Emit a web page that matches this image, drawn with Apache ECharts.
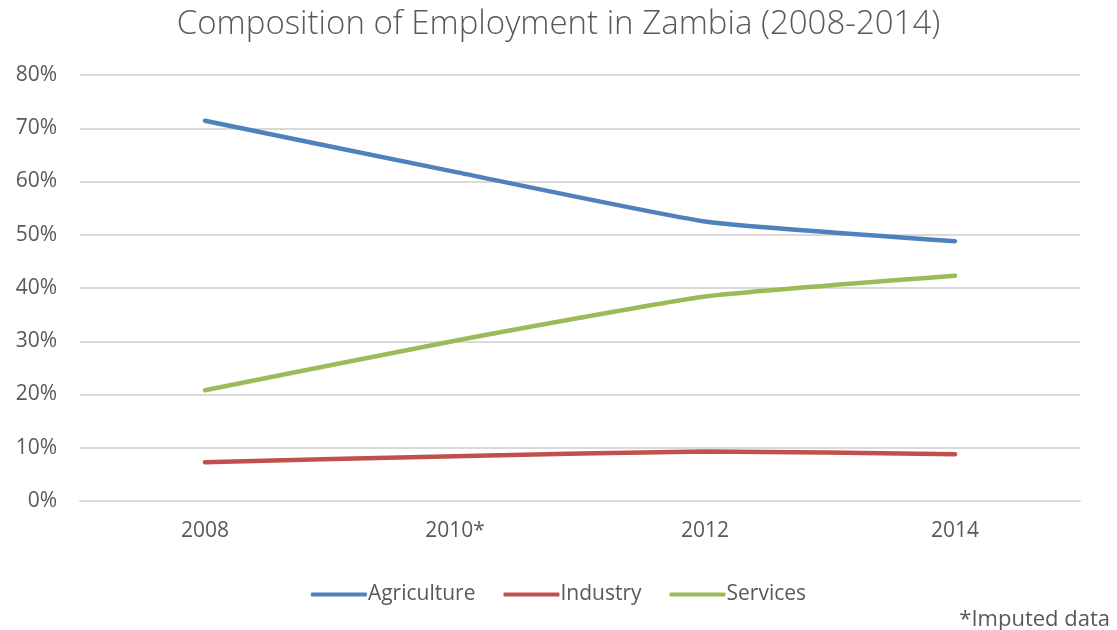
<!DOCTYPE html>
<html><head><meta charset="utf-8">
<script src="https://cdn.jsdelivr.net/npm/echarts@6/dist/echarts.min.js"></script>
<style>html,body{margin:0;padding:0;background:#fff}#c{width:1117px;height:630px}</style>
</head><body><div id="c"></div>
<script>
const categories = ['2008', '2010*', '2012', '2014'];
const agriculture = [71.4, 61.8, 52.5, 48.8];
const industry = [7.3, 8.4, 9.3, 8.8];
const services = [20.8, 30.1, 38.4, 42.3];
const yTicks = [0, 10, 20, 30, 40, 50, 60, 70, 80];

const chart = echarts.init(document.getElementById('c'));
const txt = '#595959';
const font = 'Open Sans';
chart.setOption({
  animation: false,
  title: [{
    text: 'Composition of Employment in Zambia (2008-2014)',
    left: 'center', top: 3,
    textStyle: {fontFamily: font, fontWeight: 300, fontSize: 33, color: txt}
  }, {
    text: '*Imputed data', right: 2, top: 604,
    textStyle: {fontFamily: font, fontWeight: 400, fontSize: 22, color: txt}
  }],
  legend: {
    bottom: 20, left: 'center', itemWidth: 56, itemHeight: 4, itemGap: 28,
    icon: 'roundRect',
    textStyle: {fontFamily: font, fontSize: 21, color: txt, padding: [0, 0, 0, -4]},
    data: ['Agriculture', 'Industry', 'Services']
  },
  grid: {left: 80, right: 37, top: 75, bottom: 129},
  xAxis: {
    type: 'category', data: categories, boundaryGap: true,
    axisLine: {lineStyle: {color: '#d9d9d9', width: 2}},
    axisTick: {show: false},
    axisLabel: {fontFamily: font, fontSize: 21, color: txt, margin: 20}
  },
  yAxis: {
    type: 'value', min: yTicks[0], max: yTicks[yTicks.length - 1], interval: 10,
    axisLine: {show: false}, axisTick: {show: false},
    axisLabel: {fontFamily: font, fontSize: 21, color: txt, margin: 23, formatter: v => v + '%'},
    splitLine: {lineStyle: {color: '#d9d9d9', width: 2}}
  },
  series: [
    {name: 'Agriculture', type: 'line', data: agriculture, smooth: 0.15, symbol: 'none',
     lineStyle: {width: 4.5, color: '#4F81BD', cap: 'round'}, itemStyle: {color: '#4F81BD'}},
    {name: 'Industry', type: 'line', data: industry, smooth: 0.15, symbol: 'none',
     lineStyle: {width: 4.5, color: '#C0504D', cap: 'round'}, itemStyle: {color: '#C0504D'}},
    {name: 'Services', type: 'line', data: services, smooth: 0.15, symbol: 'none',
     lineStyle: {width: 4.5, color: '#9BBB59', cap: 'round'}, itemStyle: {color: '#9BBB59'}}
  ]
});
</script></body></html>
